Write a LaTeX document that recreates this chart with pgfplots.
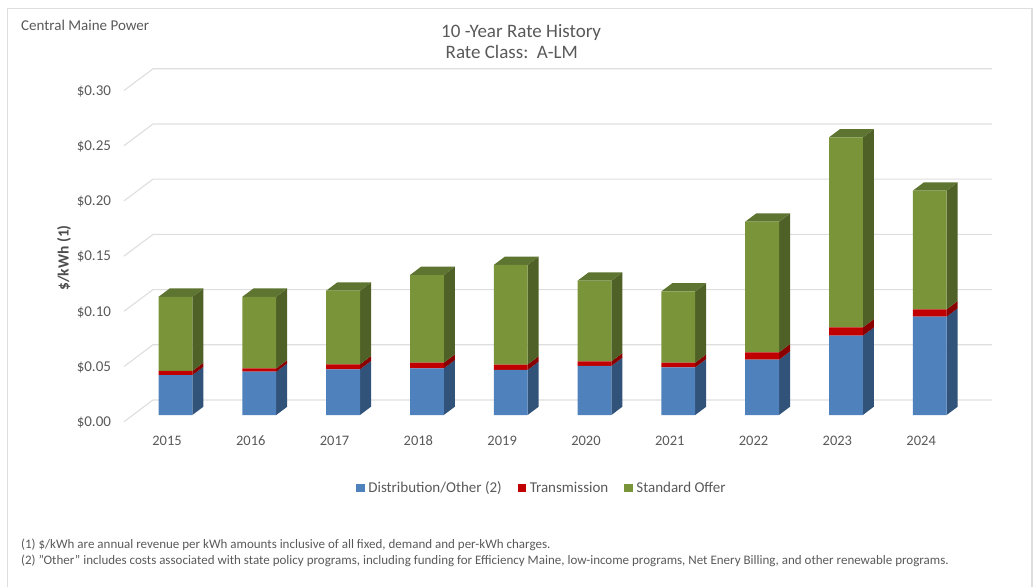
\documentclass[border=0pt]{standalone}
\usepackage{fontspec}
\setmainfont{Carlito}
\usepackage{pgfplots}
\pgfplotsset{compat=1.18}
\usepackage{pgfplotstable}

\definecolor{txt}{HTML}{595959}
\definecolor{gridc}{HTML}{DEDEDE}
\definecolor{blueF}{HTML}{4F81BD}
\definecolor{blueS}{HTML}{325379}
\definecolor{redF}{HTML}{C00000}
\definecolor{redS}{HTML}{8A0000}
\definecolor{greenF}{HTML}{7A9539}
\definecolor{greenS}{HTML}{4F6127}
\definecolor{greenT}{HTML}{5E7431}

\pgfplotstableread{
year dist trans std
2015 0.0362 0.0037 0.0672
2016 0.0392 0.0031 0.0648
2017 0.0414 0.0045 0.0667
2018 0.0423 0.0051 0.0794
2019 0.0408 0.0048 0.0903
2020 0.0444 0.0042 0.0731
2021 0.0432 0.0042 0.0646
2022 0.0501 0.0067 0.1183
2023 0.0718 0.0076 0.1721
2024 0.0891 0.0066 0.1075
}\rates

% same frame for both axes, 1 px of the reference = 1pt
\pgfplotsset{frame/.style={
  at={(124pt,165.3pt)}, anchor=south west,
  scale only axis, width=868pt, height=353.7pt,
  xmin=2014.3854, xmax=2024.743,
  ymin=-0.00607, ymax=0.31431,
  clip=false,
}}

% side of one stacked segment: x centre, low, high, colour
\newcommand{\sideface}[4]{%
  \pgfmathsetmacro\xa{#1+0.2017}%
  \pgfmathsetmacro\xb{\xa+0.1313}%
  \pgfmathsetmacro\ya{#2+0.0075}%
  \pgfmathsetmacro\yb{#3+0.0075}%
  \edef\tmp{\noexpand\addplot[forget plot,mark=none,draw=none,fill=#4]
    coordinates {(\xa,#2) (\xb,\ya) (\xb,\yb) (\xa,#3)};}\tmp}
% top of a bar
\newcommand{\topface}[3]{%
  \pgfmathsetmacro\xl{#1-0.2017}%
  \pgfmathsetmacro\xa{#1+0.2017}%
  \pgfmathsetmacro\xc{\xl+0.1313}%
  \pgfmathsetmacro\xb{\xa+0.1313}%
  \pgfmathsetmacro\yb{#2+0.0075}%
  \edef\tmp{\noexpand\addplot[forget plot,mark=none,draw=none,fill=#3]
    coordinates {(\xl,#2) (\xa,#2) (\xb,\yb) (\xc,\yb)};}\tmp}
% wall gridline
\newcommand{\wall}[3]{%
  \addplot[forget plot,mark=none,gridc,line width=1.1pt]
    coordinates {(2014.3854,#1) (2014.7315,#2) (2024.743,#2)};}

\begin{document}
\begin{tikzpicture}[x=1pt,y=1pt]
\useasboundingbox (0,0) rectangle (1033,587);
\draw[gridc,line width=1.1pt] (7.5,0) -- (7.5,578.5) -- (1032,578.5) -- (1032,0);

\begin{axis}[frame, hide axis]
\wall{-0.00607}{0.0136}{}
\wall{0.04393}{0.0636}{}
\wall{0.09393}{0.1136}{}
\wall{0.14393}{0.1636}{}
\wall{0.19393}{0.2136}{}
\wall{0.24393}{0.2636}{}
\wall{0.29393}{0.3136}{}
\pgfplotsforeachungrouped \r in {0,...,9}{
  \pgfplotstablegetelem{\r}{year}\of\rates \edef\yr{\pgfplotsretval}
  \pgfplotstablegetelem{\r}{dist}\of\rates \edef\da{\pgfplotsretval}
  \pgfplotstablegetelem{\r}{trans}\of\rates \edef\db{\pgfplotsretval}
  \pgfplotstablegetelem{\r}{std}\of\rates \edef\dc{\pgfplotsretval}
  \pgfmathsetmacro\sa{\da}
  \pgfmathsetmacro\sb{\da+\db}
  \pgfmathsetmacro\sc{\da+\db+\dc}
  \sideface{\yr}{0}{\sa}{blueS}
  \sideface{\yr}{\sa}{\sb}{redS}
  \sideface{\yr}{\sb}{\sc}{greenS}
  \topface{\yr}{\sc}{greenT}
}
\end{axis}

\begin{axis}[frame,
  ybar stacked, bar width=33.8pt,
  axis line style={draw=none}, tick style={draw=none}, major tick length=0pt,
  xtick={2015,...,2024},
  xticklabel style={/pgf/number format/1000 sep={},/pgf/number format/assume math mode=true,font=\fontsize{14.5}{16}\selectfont,text=txt,xshift=-8.5pt,yshift=-10.5pt},
  ytick={0,0.05,0.10,0.15,0.20,0.25,0.30},
  yticklabel={\$\pgfmathprintnumber{\tick}},
  yticklabel style={/pgf/number format/fixed,/pgf/number format/fixed zerofill,/pgf/number format/precision=2,/pgf/number format/assume math mode=true,font=\fontsize{15}{17}\selectfont,text=txt,xshift=-9.5pt,yshift=-7.5pt},
  ylabel={\$/kWh (1)},
  ylabel style={at={(axis description cs:-0.069,0.463)},anchor=center,font=\bfseries\fontsize{15.5}{17}\selectfont,text=black!70},
  legend columns=-1,
  legend style={at={(0.4815,-0.187)},anchor=center,draw=none,fill=none,font=\fontsize{15}{17}\selectfont,text=txt,/tikz/every even column/.append style={column sep=14pt},/tikz/every odd column/.append style={column sep=1.5pt}},
  legend image code/.code={\fill[#1] (0pt,-4pt) rectangle (8.5pt,4pt);},
]
\addplot[draw=none,fill=blueF] table[x=year,y=dist] {\rates};
\addlegendentry{Distribution/Other (2)}
\addplot[draw=none,fill=redF] table[x=year,y=trans] {\rates};
\addlegendentry{Transmission}
\addplot[draw=none,fill=greenF] table[x=year,y=std] {\rates};
\addlegendentry{Standard Offer}
\end{axis}

\tikzset{every node/.append style={inner sep=0pt,anchor=west,text=txt}}
\node[font=\fontsize{15}{17}\selectfont] at (21,562) {Central Maine Power};
\node[font=\fontsize{19}{22}\selectfont] at (441,555) {10 -Year Rate History};
\node[font=\fontsize{19}{22}\selectfont] at (445.5,535) {Rate Class:\ \ A-LM};
\node[font=\fontsize{13}{15}\selectfont] at (21,42.3) {(1) \$/kWh are annual revenue per kWh amounts inclusive of all fixed, demand and per-kWh charges.};
\node[font=\fontsize{13}{15}\selectfont] at (21,26.3) {(2) \symbol{34}Other\symbol{34} includes costs associated with state policy programs, including funding for Efficiency Maine, low-income programs, Net Enery Billing, and other renewable programs.};
\end{tikzpicture}
\end{document}
